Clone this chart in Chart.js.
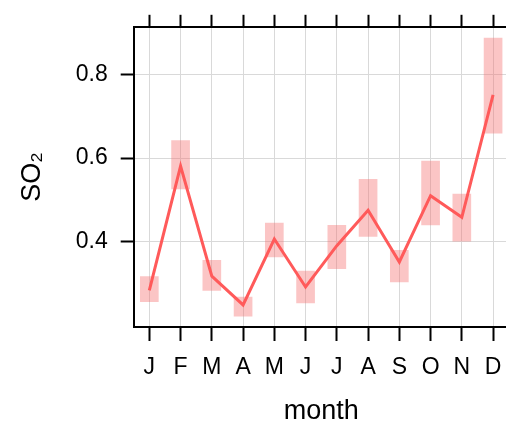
<!DOCTYPE html>
<html>
<head>
<meta charset="utf-8">
<title>SO2 by month</title>
<script src="https://cdn.jsdelivr.net/npm/chart.js@4/dist/chart.umd.min.js"></script>
<style>
  html, body { margin: 0; padding: 0; background: #fff; overflow: hidden; }
  .chart-container { width: 520px; height: 425px; }
</style>
</head>
<body>
<div class="chart-container">
  <canvas id="chart"></canvas>
</div>
<script>
// monthly SO2 mean and its confidence interval
const months = ['J', 'F', 'M', 'A', 'M', 'J', 'J', 'A', 'S', 'O', 'N', 'D'];
const so2Mean = [0.283, 0.581, 0.317, 0.248, 0.406, 0.291, 0.390, 0.475, 0.351, 0.510, 0.458, 0.752];
const so2Lower = [0.256, 0.526, 0.283, 0.221, 0.363, 0.253, 0.335, 0.412, 0.303, 0.440, 0.401, 0.660];
const so2Upper = [0.316, 0.642, 0.355, 0.267, 0.444, 0.329, 0.439, 0.549, 0.379, 0.593, 0.514, 0.888];
const yTicks = [0.4, 0.6, 0.8];

const font = "'Liberation Sans', Arial, Helvetica, sans-serif";
const gridColor = '#d9d9d9';

const ctx = document.getElementById('chart').getContext('2d');

new Chart(ctx, {
  data: {
    labels: months,
    datasets: [
      {
        type: 'line',
        data: so2Mean,
        borderColor: '#ff5a5a',
        borderWidth: 3,
        pointRadius: 0,
        tension: 0,
        order: 0,
      },
      {
        type: 'bar',
        data: months.map((m, i) => [so2Lower[i], so2Upper[i]]),
        backgroundColor: 'rgba(245, 110, 110, 0.4)',
        borderWidth: 0,
        barThickness: 18,
        order: 1,
      },
    ],
  },
  options: {
    responsive: true,
    maintainAspectRatio: false,
    animation: false,
    layout: { padding: { left: 0, right: 11.3, top: 0, bottom: 0 } },
    plugins: {
      legend: { display: false },
      tooltip: { enabled: false },
    },
    scales: {
      x: {
        type: 'category',
        position: 'bottom',
        offset: true,
        grid: {
          offset: false,
          color: gridColor,
          lineWidth: 1,
          tickLength: 14,
          tickColor: '#000',
          tickWidth: 2,
        },
        border: { color: '#000', width: 2 },
        ticks: {
          color: '#000',
          padding: 13,
          maxRotation: 0,
          autoSkip: false,
          font: { family: font, size: 23 },
        },
        title: {
          display: true,
          text: 'month',
          color: '#000',
          padding: 0,
          font: { family: font, size: 27, lineHeight: 1 },
        },
        afterFit: (scale) => { scale.height = 98; },
      },
      xTop: {
        type: 'category',
        position: 'top',
        offset: true,
        grid: {
          offset: false,
          drawOnChartArea: false,
          tickLength: 12,
          tickColor: '#000',
          tickWidth: 2,
        },
        border: { color: '#000', width: 2 },
        ticks: { display: false },
        afterFit: (scale) => { scale.height = 24.5; },
      },
      y: {
        type: 'linear',
        position: 'left',
        min: 0.195,
        max: 0.915,
        afterBuildTicks: (axis) => { axis.ticks = yTicks.map(v => ({ value: v })); },
        grid: {
          color: gridColor,
          lineWidth: 1,
          tickLength: 13,
          tickColor: '#000',
          tickWidth: 2,
        },
        border: { color: '#000', width: 2 },
        ticks: {
          color: '#000',
          padding: 13,
          font: { family: font, size: 23 },
          callback: (v) => v.toFixed(1),
        },
        title: {
          display: true,
          text: 'SO₂',
          color: '#000',
          padding: { top: 16, bottom: 0 },
          font: { family: font, size: 27 },
        },
        afterFit: (scale) => { scale.width = 133.7; },
      },
    },
  },
});
</script>
</body>
</html>
